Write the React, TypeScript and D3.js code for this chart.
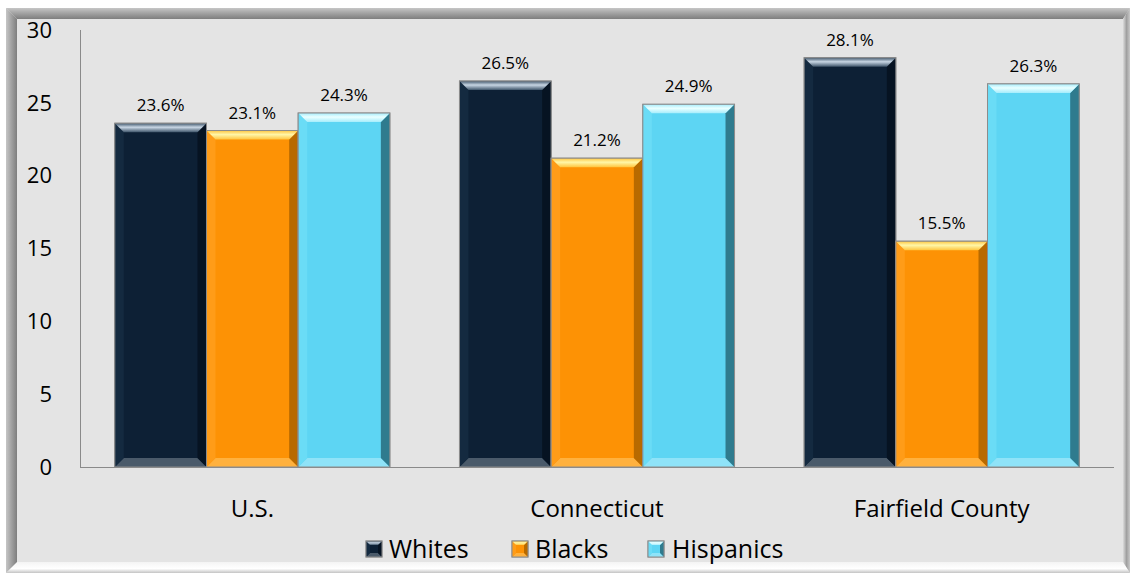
import React from "react";
import * as d3 from "d3";

const categories = ["U.S.", "Connecticut", "Fairfield County"];
const seriesNames = ["Whites", "Blacks", "Hispanics"];
const whites = [23.6, 26.5, 28.1];
const blacks = [23.1, 21.2, 15.5];
const hispanics = [24.3, 24.9, 26.3];
const yTicks = [0, 5, 10, 15, 20, 25, 30];

const W = 1130;
const H = 573;
const FONT = "'Open Sans', 'Noto Sans', sans-serif";

const palette: Record<string, { base: string; top: string; hi: string; bottom: string; right: string; left: string }> = {
  Whites: { base: "#0d2035", top: "#40566b", hi: "#c8d6e4", bottom: "#4a5a6a", right: "#061322", left: "#142a40" },
  Blacks: { base: "#fd9205", top: "#ffc640", hi: "#fff6a8", bottom: "#ffb13e", right: "#b86a00", left: "#ff9c18" },
  Hispanics: { base: "#5dd5f3", top: "#a6edfc", hi: "#eaffff", bottom: "#8fe3f8", right: "#2f7b8e", left: "#6adcf6" },
};

function BevelBar({ x, y, w, h, name, b = 9, id }: { x: number; y: number; w: number; h: number; name: string; b?: number; id: string }) {
  const c = palette[name];
  const x1 = x + w;
  const y1 = y + h;
  return (
    <g>
      <defs>
        <linearGradient id={`top-${id}`} x1="0" y1="0" x2="0" y2="1">
          <stop offset="0%" stopColor={c.top} />
          <stop offset="45%" stopColor={c.hi} />
          <stop offset="100%" stopColor={c.top} />
        </linearGradient>
      </defs>
      <rect x={x} y={y} width={w} height={h} fill={c.base} stroke="#8c8c8c" strokeWidth={1} />
      <polygon points={`${x},${y1} ${x1},${y1} ${x1 - b},${y1 - b} ${x + b},${y1 - b}`} fill={c.bottom} />
      <polygon points={`${x},${y} ${x + b},${y + b} ${x + b},${y1 - b} ${x},${y1}`} fill={c.left} />
      <polygon points={`${x1},${y} ${x1 - b},${y + b} ${x1 - b},${y1 - b} ${x1},${y1}`} fill={c.right} />
      <polygon points={`${x},${y} ${x1},${y} ${x1 - b},${y + b} ${x + b},${y + b}`} fill={`url(#top-${id})`} />
      <rect x={x} y={y} width={w} height={h} fill="none" stroke="#8c8c8c" strokeWidth={1} />
    </g>
  );
}

export default function App() {
  const plotLeft = 80;
  const plotRight = 1114;
  const yTop = 30;
  const yBase = 467;

  const x0 = d3.scaleBand<string>().domain(categories).range([plotLeft, plotRight]).paddingInner(0.202).paddingOuter(0.101);
  const x1 = d3.scaleBand<string>().domain(seriesNames).range([0, x0.bandwidth()]).padding(0);
  const y = d3.scaleLinear().domain([0, 30]).range([yBase, yTop]);

  const seriesData: Record<string, number[]> = { Whites: whites, Blacks: blacks, Hispanics: hispanics };

  const legendItems = [
    { name: "Whites", sx: 366, tx: 389 },
    { name: "Blacks", sx: 512, tx: 535 },
    { name: "Hispanics", sx: 648, tx: 672 },
  ];

  return (
    <svg width={W} height={H} style={{ position: "absolute", left: 0, top: 0, display: "block" }} fontFamily={FONT}>
      <defs>
        <linearGradient id="frameLeft" x1="0" y1="0" x2="1" y2="0">
          <stop offset="0%" stopColor="#c6c6c6" />
          <stop offset="40%" stopColor="#a8a8a8" />
          <stop offset="100%" stopColor="#7e7e7e" />
        </linearGradient>
        <linearGradient id="frameTop" x1="0" y1="0" x2="0" y2="1">
          <stop offset="0%" stopColor="#c6c6c6" />
          <stop offset="40%" stopColor="#a8a8a8" />
          <stop offset="100%" stopColor="#7e7e7e" />
        </linearGradient>
        <linearGradient id="frameRight" x1="0" y1="0" x2="1" y2="0">
          <stop offset="0%" stopColor="#dcdcdc" />
          <stop offset="50%" stopColor="#a0a0a0" />
          <stop offset="100%" stopColor="#c8c8c8" />
        </linearGradient>
        <linearGradient id="frameBottom" x1="0" y1="0" x2="0" y2="1">
          <stop offset="0%" stopColor="#f4f4f4" />
          <stop offset="60%" stopColor="#ffffff" />
          <stop offset="100%" stopColor="#c4c4c4" />
        </linearGradient>
      </defs>
      <rect x={0} y={0} width={W} height={H} fill="#ffffff" />
      <rect x={6} y={8} width={W - 6} height={H - 8} fill="#e4e4e4" />
      {/* frame */}
      <polygon points={`6,8 ${W},8 ${W - 7},19 17,19`} fill="url(#frameTop)" />
      <polygon points={`6,8 17,19 17,${H - 10} 6,${H}`} fill="url(#frameLeft)" />
      <polygon points={`${W},8 ${W - 7},19 ${W - 7},${H - 10} ${W},${H}`} fill="url(#frameRight)" />
      <polygon points={`17,${H - 11} ${W - 7},${H - 11} ${W},${H} 6,${H}`} fill="url(#frameBottom)" />

      {/* axes */}
      <line x1={plotLeft + 0.5} x2={plotLeft + 0.5} y1={yTop} y2={yBase} stroke="#8a8a8a" strokeWidth={1} />
      <line x1={plotLeft} x2={plotRight} y1={yBase + 0.5} y2={yBase + 0.5} stroke="#8a8a8a" strokeWidth={1} />

      {yTicks.map((t) => (
        <text key={t} x={52} y={y(t)} dy="0.35em" textAnchor="end" fontSize={22} fill="#000">
          {t}
        </text>
      ))}

      {/* bars */}
      {categories.map((cat, ci) => (
        <g key={cat}>
          {seriesNames.map((s) => {
            const v = seriesData[s][ci];
            const bx = (x0(cat) as number) + (x1(s) as number);
            const bw = x1.bandwidth();
            const top = y(v);
            return (
              <g key={s}>
                <BevelBar x={bx} y={top} w={bw} h={yBase - top} name={s} id={`${ci}-${s}`} />
                <text x={bx + bw / 2} y={top - 12} textAnchor="middle" fontSize={17} fill="#000">
                  {v.toFixed(1)}%
                </text>
              </g>
            );
          })}
          <text x={(x0(cat) as number) + x0.bandwidth() / 2} y={509} dy="0.35em" textAnchor="middle" fontSize={24} fill="#000">
            {cat}
          </text>
        </g>
      ))}

      {/* legend */}
      {legendItems.map((li) => (
        <g key={li.name}>
          <BevelBar x={li.sx} y={541} w={16} h={16} name={li.name} b={4} id={`leg-${li.name}`} />
          <text x={li.tx} y={549} dy="0.35em" fontSize={25} fill="#000">
            {li.name}
          </text>
        </g>
      ))}
    </svg>
  );
}
